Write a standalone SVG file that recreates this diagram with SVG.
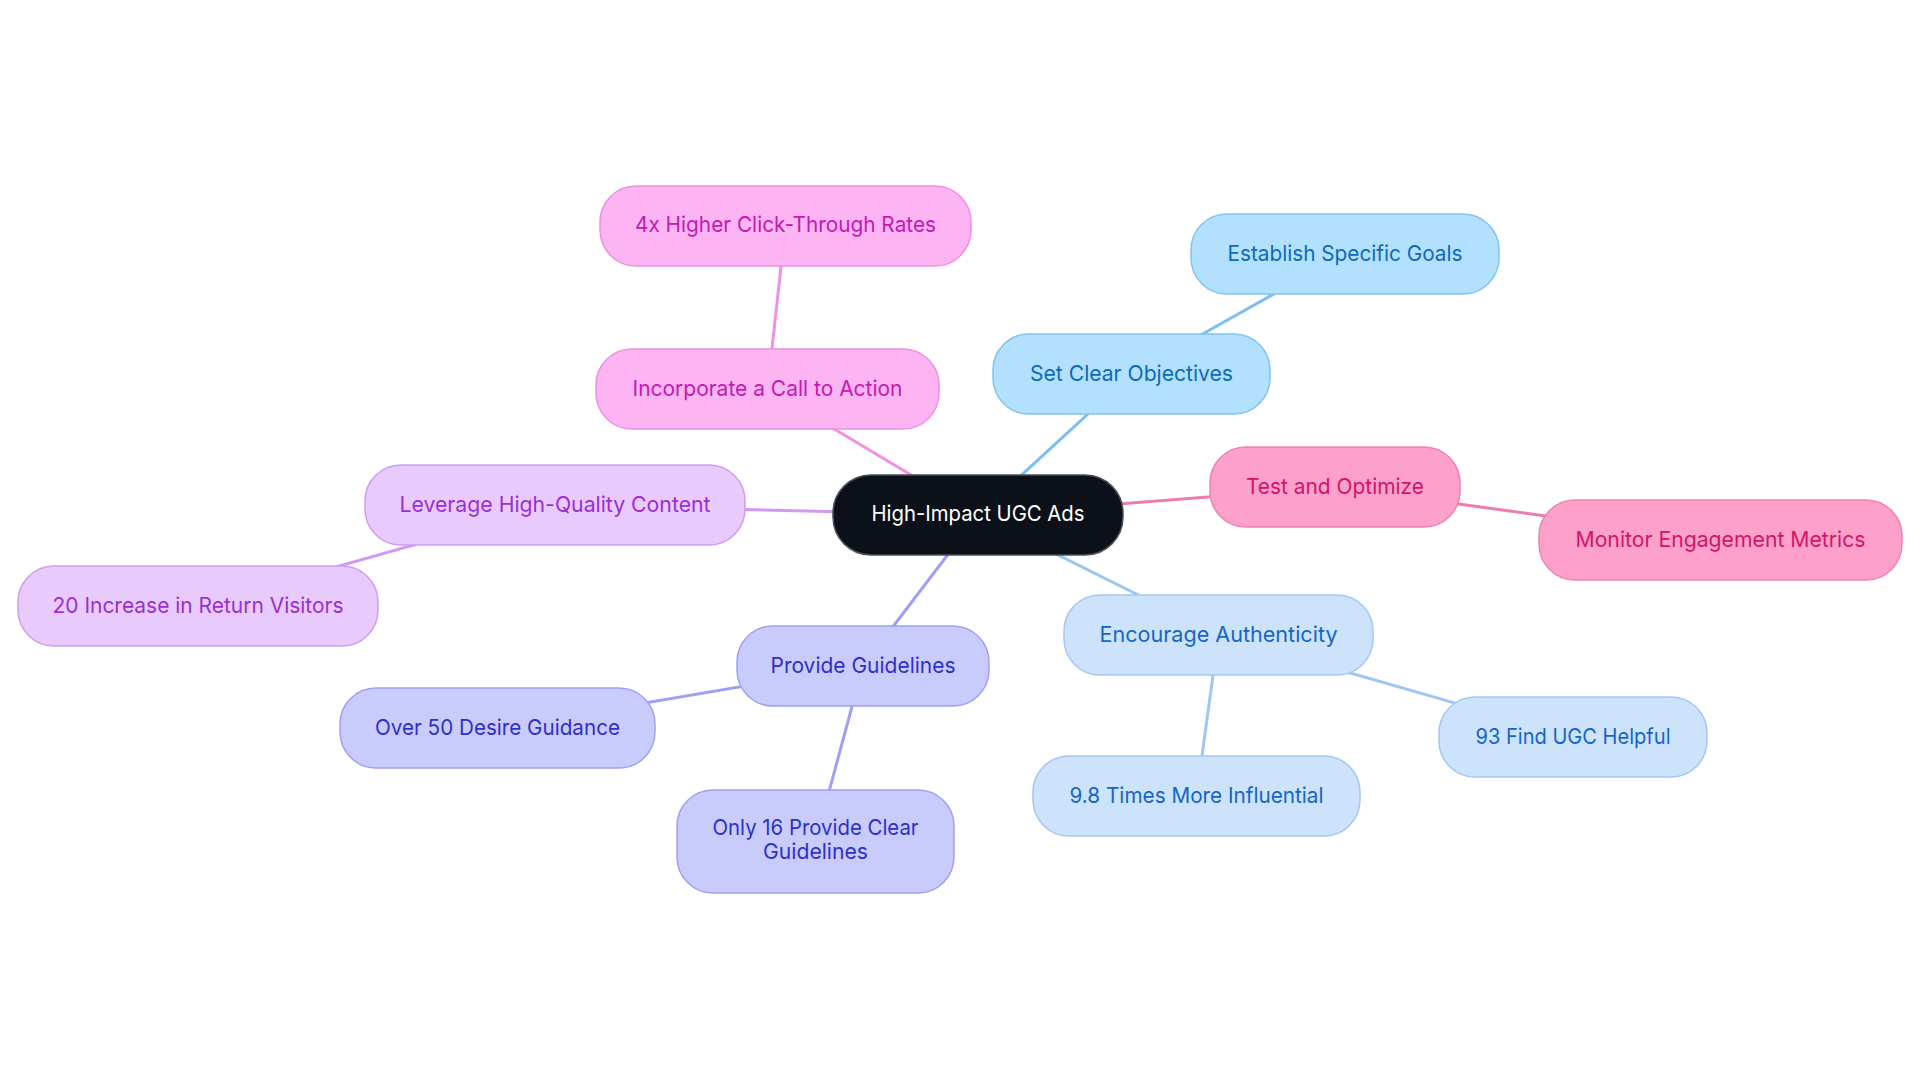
<svg xmlns="http://www.w3.org/2000/svg" width="1920" height="1083" viewBox="0 0 1920 1083">
<style>
text{font-family:Inter,"Noto Sans","Liberation Sans",sans-serif;font-size:22px;text-anchor:middle}
.c line{stroke-width:3;stroke-linecap:round}
.n rect{stroke-width:1.5}
.root rect{fill:#0b1019;stroke:#4a5058}
.root text{fill:#ffffff}
.pk rect{fill:#fdb4f3;stroke:#ee90e1}
.pk text{fill:#c41ab4}
.bl rect{fill:#b3e0fe;stroke:#82c4ef}
.bl text{fill:#0b6cb8}
.rs rect{fill:#fda1cb;stroke:#ef80b3}
.rs text{fill:#d41469}
.pu rect{fill:#e8cbfc;stroke:#d09cf1}
.pu text{fill:#9a2fd4}
.in rect{fill:#c9cbfd;stroke:#9ea0f4}
.in text{fill:#2e30c9}
.lb rect{fill:#cde3fb;stroke:#a2c7f1}
.lb text{fill:#1566c7}
</style>
<rect width="1920" height="1083" fill="#ffffff"/>
<g id="connectors" class="c">
<line x1="978" y1="515" x2="767.5" y2="389" stroke="#f290e6"/>
<line x1="767.5" y1="389" x2="785.5" y2="226" stroke="#f290e6"/>
<line x1="978" y1="515" x2="1131.5" y2="374" stroke="#7dc0ef"/>
<line x1="1131.5" y1="374" x2="1345" y2="254" stroke="#7dc0ef"/>
<line x1="978" y1="515" x2="1335" y2="487" stroke="#f07bb0"/>
<line x1="1335" y1="487" x2="1720.5" y2="540" stroke="#f07bb0"/>
<line x1="978" y1="515" x2="555" y2="505" stroke="#cf9af2"/>
<line x1="555" y1="505" x2="198" y2="606" stroke="#cf9af2"/>
<line x1="978" y1="515" x2="863" y2="666" stroke="#9fa0f3"/>
<line x1="863" y1="666" x2="497.5" y2="728" stroke="#9fa0f3"/>
<line x1="863" y1="666" x2="815.5" y2="841.5" stroke="#9fa0f3"/>
<line x1="978" y1="515" x2="1218.5" y2="635" stroke="#a0c6f2"/>
<line x1="1218.5" y1="635" x2="1196.5" y2="796" stroke="#a0c6f2"/>
<line x1="1218.5" y1="635" x2="1573" y2="737" stroke="#a0c6f2"/>
</g>
<g id="root" class="n root"><rect x="833" y="475" width="290" height="80" rx="38"/><text x="978" y="521" textLength="213" lengthAdjust="spacingAndGlyphs">High-Impact UGC Ads</text></g>
<g id="n-4x" class="n pk"><rect x="600" y="186" width="371" height="80" rx="36"/><text x="785.5" y="232" textLength="301" lengthAdjust="spacingAndGlyphs">4x Higher Click-Through Rates</text></g>
<g id="n-cta" class="n pk"><rect x="596" y="349" width="343" height="80" rx="36"/><text x="767.5" y="395.5" textLength="270" lengthAdjust="spacingAndGlyphs">Incorporate a Call to Action</text></g>
<g id="n-goals" class="n bl"><rect x="1191" y="214" width="308" height="80" rx="36"/><text x="1345" y="260.5" textLength="235" lengthAdjust="spacingAndGlyphs">Establish Specific Goals</text></g>
<g id="n-obj" class="n bl"><rect x="993" y="334" width="277" height="80" rx="36"/><text x="1131.5" y="380.5" textLength="203" lengthAdjust="spacingAndGlyphs">Set Clear Objectives</text></g>
<g id="n-test" class="n rs"><rect x="1210" y="447" width="250" height="80" rx="36"/><text x="1335" y="493.5" textLength="178" lengthAdjust="spacingAndGlyphs">Test and Optimize</text></g>
<g id="n-monitor" class="n rs"><rect x="1539" y="500" width="363" height="80" rx="36"/><text x="1720.5" y="546.5" textLength="290" lengthAdjust="spacingAndGlyphs">Monitor Engagement Metrics</text></g>
<g id="n-leverage" class="n pu"><rect x="365" y="465" width="380" height="80" rx="36"/><text x="555" y="511.5" textLength="311" lengthAdjust="spacingAndGlyphs">Leverage High-Quality Content</text></g>
<g id="n-return" class="n pu"><rect x="18" y="566" width="360" height="80" rx="36"/><text x="198" y="612.5" textLength="291" lengthAdjust="spacingAndGlyphs">20 Increase in Return Visitors</text></g>
<g id="n-guide" class="n in"><rect x="737" y="626" width="252" height="80" rx="36"/><text x="863" y="672.5" textLength="185" lengthAdjust="spacingAndGlyphs">Provide Guidelines</text></g>
<g id="n-over50" class="n in"><rect x="340" y="688" width="315" height="80" rx="36"/><text x="497.5" y="734.5" textLength="245" lengthAdjust="spacingAndGlyphs">Over 50 Desire Guidance</text></g>
<g id="n-only16" class="n in"><rect x="677" y="790" width="277" height="103" rx="36"/><text x="815.5" y="835" textLength="206" lengthAdjust="spacingAndGlyphs">Only 16 Provide Clear</text><text x="815.5" y="859" textLength="105" lengthAdjust="spacingAndGlyphs">Guidelines</text></g>
<g id="n-auth" class="n lb"><rect x="1064" y="595" width="309" height="80" rx="36"/><text x="1218.5" y="641.5" textLength="238" lengthAdjust="spacingAndGlyphs">Encourage Authenticity</text></g>
<g id="n-98" class="n lb"><rect x="1033" y="756" width="327" height="80" rx="36"/><text x="1196.5" y="802.5" textLength="254" lengthAdjust="spacingAndGlyphs">9.8 Times More Influential</text></g>
<g id="n-93" class="n lb"><rect x="1439" y="697" width="268" height="80" rx="36"/><text x="1573" y="743.5" textLength="195" lengthAdjust="spacingAndGlyphs">93 Find UGC Helpful</text></g>
</svg>
